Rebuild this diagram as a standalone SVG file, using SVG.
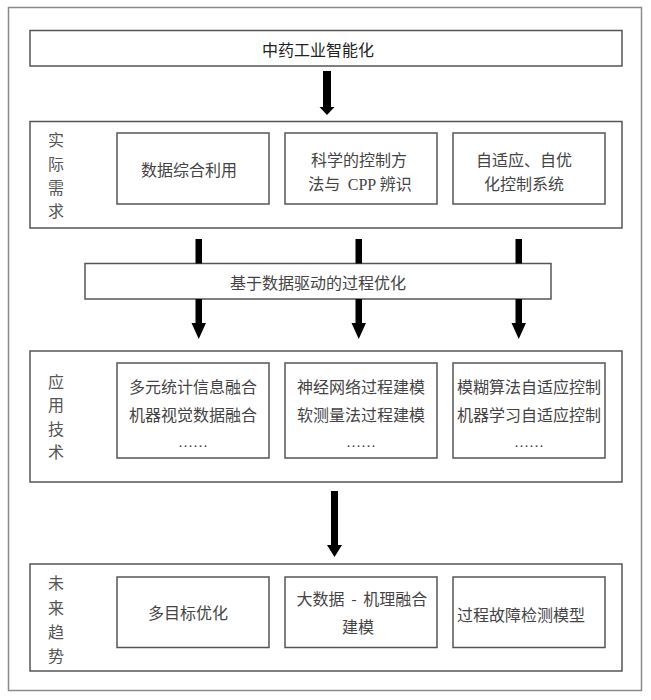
<svg xmlns="http://www.w3.org/2000/svg" width="651" height="700" viewBox="0 0 651 700">
<style>
  .frame { fill: #fff; stroke: #8a8a8a; stroke-width: 1.5; }
  .box { fill: #fff; stroke: #555; stroke-width: 1.5; }
  .t { font-family: "Noto Sans CJK SC", "Noto Sans", sans-serif; font-size: 16px; fill: #444; text-anchor: middle; }
  .lbl { font-family: "Noto Sans CJK SC", "Noto Sans", sans-serif; font-size: 16px; fill: #555; text-anchor: middle; }
  .title { font-family: "Noto Sans CJK SC", "Noto Sans", sans-serif; font-size: 16px; fill: #222; text-anchor: middle; }
  .lat { font-family: "Liberation Serif", serif; }
  .dots { font-family: "Liberation Serif", serif; font-size: 15px; fill: #444; text-anchor: middle; }
  .arrow { fill: #000; }
</style>
<rect width="651" height="700" fill="#fff"/>
<rect id="frame" class="frame" x="8.5" y="7.5" width="633" height="683"/>

<g id="title">
  <rect class="box" x="30" y="30.5" width="592" height="35.5"/>
  <text class="title" x="318" y="56">中药工业智能化</text>
</g>

<g id="demand">
  <rect class="box" x="30" y="121.5" width="592" height="106.5"/>
  <text class="lbl" x="56" y="146">实</text>
  <text class="lbl" x="56" y="170">际</text>
  <text class="lbl" x="56" y="194">需</text>
  <text class="lbl" x="56" y="217">求</text>
</g>
<g id="d1">
  <rect class="box" x="117" y="133" width="152" height="71"/>
  <text class="t" x="189" y="176">数据综合利用</text>
</g>
<g id="d2">
  <rect class="box" x="285" y="133" width="152" height="71"/>
  <text class="t" x="359" y="166">科学的控制方</text>
  <text class="t" x="360" y="190">法与 <tspan class="lat" dx="4">CPP</tspan> 辨识</text>
</g>
<g id="d3">
  <rect class="box" x="453" y="133" width="152" height="71"/>
  <text class="t" x="524" y="166">自适应、自优</text>
  <text class="t" x="524" y="190">化控制系统</text>
</g>

<g id="opt">
  <rect class="box" x="85" y="263.5" width="466" height="35.5"/>
  <text class="t" x="318" y="289">基于数据驱动的过程优化</text>
</g>

<g id="tech">
  <rect class="box" x="30" y="351" width="592" height="131"/>
  <text class="lbl" x="56" y="388">应</text>
  <text class="lbl" x="56" y="411">用</text>
  <text class="lbl" x="56" y="435">技</text>
  <text class="lbl" x="56" y="458">术</text>
</g>
<g id="t1">
  <rect class="box" x="117" y="363" width="152" height="95"/>
  <text class="t" x="193" y="393">多元统计信息融合</text>
  <text class="t" x="193" y="421">机器视觉数据融合</text>
  <text class="dots" x="193" y="447">……</text>
</g>
<g id="t2">
  <rect class="box" x="285" y="363" width="152" height="95"/>
  <text class="t" x="361" y="393">神经网络过程建模</text>
  <text class="t" x="361" y="421">软测量法过程建模</text>
  <text class="dots" x="361" y="447">……</text>
</g>
<g id="t3">
  <rect class="box" x="453" y="363" width="152" height="95"/>
  <text class="t" x="529" y="393">模糊算法自适应控制</text>
  <text class="t" x="529" y="421">机器学习自适应控制</text>
  <text class="dots" x="529" y="447">……</text>
</g>

<g id="trend">
  <rect class="box" x="30" y="564" width="592" height="107"/>
  <text class="lbl" x="56" y="589">未</text>
  <text class="lbl" x="56" y="614">来</text>
  <text class="lbl" x="56" y="638">趋</text>
  <text class="lbl" x="56" y="662">势</text>
</g>
<g id="f1">
  <rect class="box" x="117" y="577" width="152" height="70.5"/>
  <text class="t" x="188" y="619">多目标优化</text>
</g>
<g id="f2">
  <rect class="box" x="285" y="577" width="152" height="70.5"/>
  <text class="t" x="362" y="605">大数据 <tspan dx="3">-</tspan> <tspan dx="3">机理融合</tspan></text>
  <text class="t" x="358" y="633">建模</text>
</g>
<g id="f3">
  <rect class="box" x="453" y="577" width="152" height="70.5"/>
  <text class="t" x="521" y="621">过程故障检测模型</text>
</g>

<g id="connectors" class="arrow">
  <polygon points="323,71 331,71 331,107 334.5,107 327,115 319.5,107 323,107"/>
  <rect x="195.5" y="239" width="6.5" height="24.5"/>
  <rect x="355.5" y="239" width="6.5" height="24.5"/>
  <rect x="515.5" y="239" width="6.5" height="24.5"/>
  <polygon points="195.5,299 202,299 202,323 206,323 198.75,339 191.5,323 195.5,323"/>
  <polygon points="355.5,299 362,299 362,323 366,323 358.75,339 351.5,323 355.5,323"/>
  <polygon points="515.5,299 522,299 522,323 526,323 518.75,339 511.5,323 515.5,323"/>
  <polygon points="331,491 338,491 338,545 342,545 334.5,557 327,545 331,545"/>
</g>
</svg>
